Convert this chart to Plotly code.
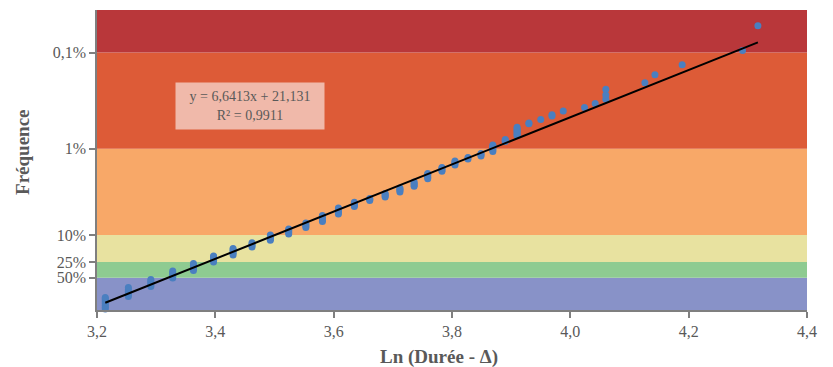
import plotly.graph_objects as go

# ---- data ----
cluster_x = [3.214, 3.253, 3.291, 3.328, 3.363, 3.397, 3.430, 3.462, 3.493, 3.524,
             3.553, 3.581, 3.608, 3.635, 3.661, 3.687, 3.712, 3.736, 3.759, 3.783,
             3.805, 3.827, 3.849, 3.869, 3.890, 3.910, 3.930, 3.950, 3.969, 3.988,
             4.024, 4.042, 4.060, 4.126, 4.143, 4.189, 4.291, 4.317]
cluster_y = [
    [0.04, 0.09, 0.14, 0.19, 0.24, 0.29, 0.33, 0.36],
    [0.39, 0.44, 0.49, 0.54, 0.59, 0.64],
    [0.67, 0.72, 0.77, 0.82, 0.87],
    [0.91, 0.96, 1.01, 1.06, 1.11],
    [1.12, 1.17, 1.22, 1.27, 1.32],
    [1.36, 1.41, 1.46, 1.50, 1.53],
    [1.56, 1.61, 1.66, 1.70, 1.74],
    [1.78, 1.82, 1.86, 1.90],
    [1.97, 2.01, 2.05, 2.09, 2.12],
    [2.15, 2.19, 2.23, 2.26, 2.29],
    [2.33, 2.37, 2.41, 2.46],
    [2.50, 2.54, 2.58, 2.63, 2.67],
    [2.71, 2.75, 2.79, 2.84, 2.88],
    [2.92, 2.96, 3.00, 3.04],
    [3.09, 3.12, 3.15],
    [3.19, 3.22, 3.26, 3.29],
    [3.33, 3.37, 3.41, 3.44],
    [3.49, 3.53, 3.57, 3.61],
    [3.70, 3.74, 3.78, 3.82, 3.85],
    [3.91, 3.95, 3.99, 4.02],
    [4.09, 4.13, 4.17, 4.20],
    [4.26, 4.30],
    [4.34, 4.38, 4.41],
    [4.47, 4.51, 4.55, 4.59, 4.62, 4.65],
    [4.75, 4.78, 4.81],
    [4.91, 4.95, 4.99, 5.03, 5.07, 5.11, 5.15],
    [5.25, 5.27],
    [5.37],
    [5.47, 5.50],
    [5.61],
    [5.71],
    [5.82],
    [5.94, 6.06, 6.22],
    [6.40],
    [6.63],
    [6.91],
    [7.31],
    [8.01],
]

# regression (line drawn from the fitted coefficients)
slope = 6.6413
intercept = -21.131
eq_text = "y = 6,6413x + 21,131<br>R² = 0,9911"

# frequency bands (boundaries on the reduced-variable axis) and labels
band_edges = [0.01, 0.918, 1.360, 2.120, 4.550, 7.252, 8.45]
band_colors = ["#8892C8", "#8ECB91", "#E8E2A0", "#F8A868", "#DD5B37", "#B9373A"]
tick_vals = [0.918, 1.360, 2.120, 4.550, 7.252]
tick_text = ["50%", "25%", "10%", "1%", "0,1%"]

x_ticks = [3.2, 3.4, 3.6, 3.8, 4.0, 4.2, 4.4]
x_title = "<b>Ln (Durée - Δ)</b>"
y_title = "<b>Fréquence</b>"

# ---- build ----
xs, ys = [], []
for cx, cy in zip(cluster_x, cluster_y):
    for v in cy:
        xs.append(cx)
        ys.append(v)

font_family = "Palatino Linotype, Book Antiqua, Palatino, Liberation Serif, serif"
grey = "#595959"
axis_grey = "#7F7F7F"

fig = go.Figure()
fig.add_trace(go.Scatter(x=xs, y=ys, mode="markers",
                         marker=dict(color="#4A7FC0", size=7, line=dict(width=0)),
                         showlegend=False, cliponaxis=False))
x0, x1 = min(xs), max(xs)
fig.add_trace(go.Scatter(x=[x0, x1], y=[slope * x0 + intercept, slope * x1 + intercept],
                         mode="lines", line=dict(color="black", width=2),
                         showlegend=False))

for i, c in enumerate(band_colors):
    fig.add_shape(type="rect", xref="paper", yref="y", x0=0, x1=1,
                  y0=band_edges[i], y1=band_edges[i + 1],
                  fillcolor=c, line=dict(width=0), layer="below")

fig.add_annotation(x=3.459, y=5.75, xref="x", yref="y", text=eq_text,
                   showarrow=False, bgcolor="#F0B9AA", width=146, height=44,
                   font=dict(family=font_family, size=14, color=grey), align="center")

# axis titles
fig.add_annotation(x=0.482, y=-0.157, xref="paper", yref="paper", text=x_title,
                   showarrow=False, xanchor="center", yanchor="middle",
                   font=dict(family=font_family, size=19, color=grey))
fig.add_annotation(x=-0.105, y=0.525, xref="paper", yref="paper", text=y_title,
                   showarrow=False, xanchor="center", yanchor="middle", textangle=-90,
                   font=dict(family=font_family, size=19, color=grey))

fig.update_layout(
    width=833, height=367,
    margin=dict(l=97, r=26, t=10, b=57, autoexpand=False),
    paper_bgcolor="white", plot_bgcolor="white",
    separators=", ",
    font=dict(family=font_family, color=grey, size=16),
    xaxis=dict(range=[3.2, 4.4], tickvals=x_ticks, tickformat=".1f", automargin=False,
               showgrid=False, zeroline=False, showline=True, linecolor=axis_grey,
               linewidth=1.5, ticks="outside", ticklen=6, tickcolor=axis_grey,
               tickwidth=1.5),
    yaxis=dict(range=[band_edges[0], band_edges[-1]], tickvals=tick_vals, ticktext=tick_text,
               automargin=False,
               showgrid=False, zeroline=False, showline=True, linecolor=axis_grey,
               linewidth=1.5, ticks="outside", ticklen=6, tickcolor=axis_grey,
               tickwidth=1.5),
)

fig.write_html("out.html", config={"displayModeBar": False},
               post_script="document.body.style.margin='0';document.body.style.overflow='hidden';")
